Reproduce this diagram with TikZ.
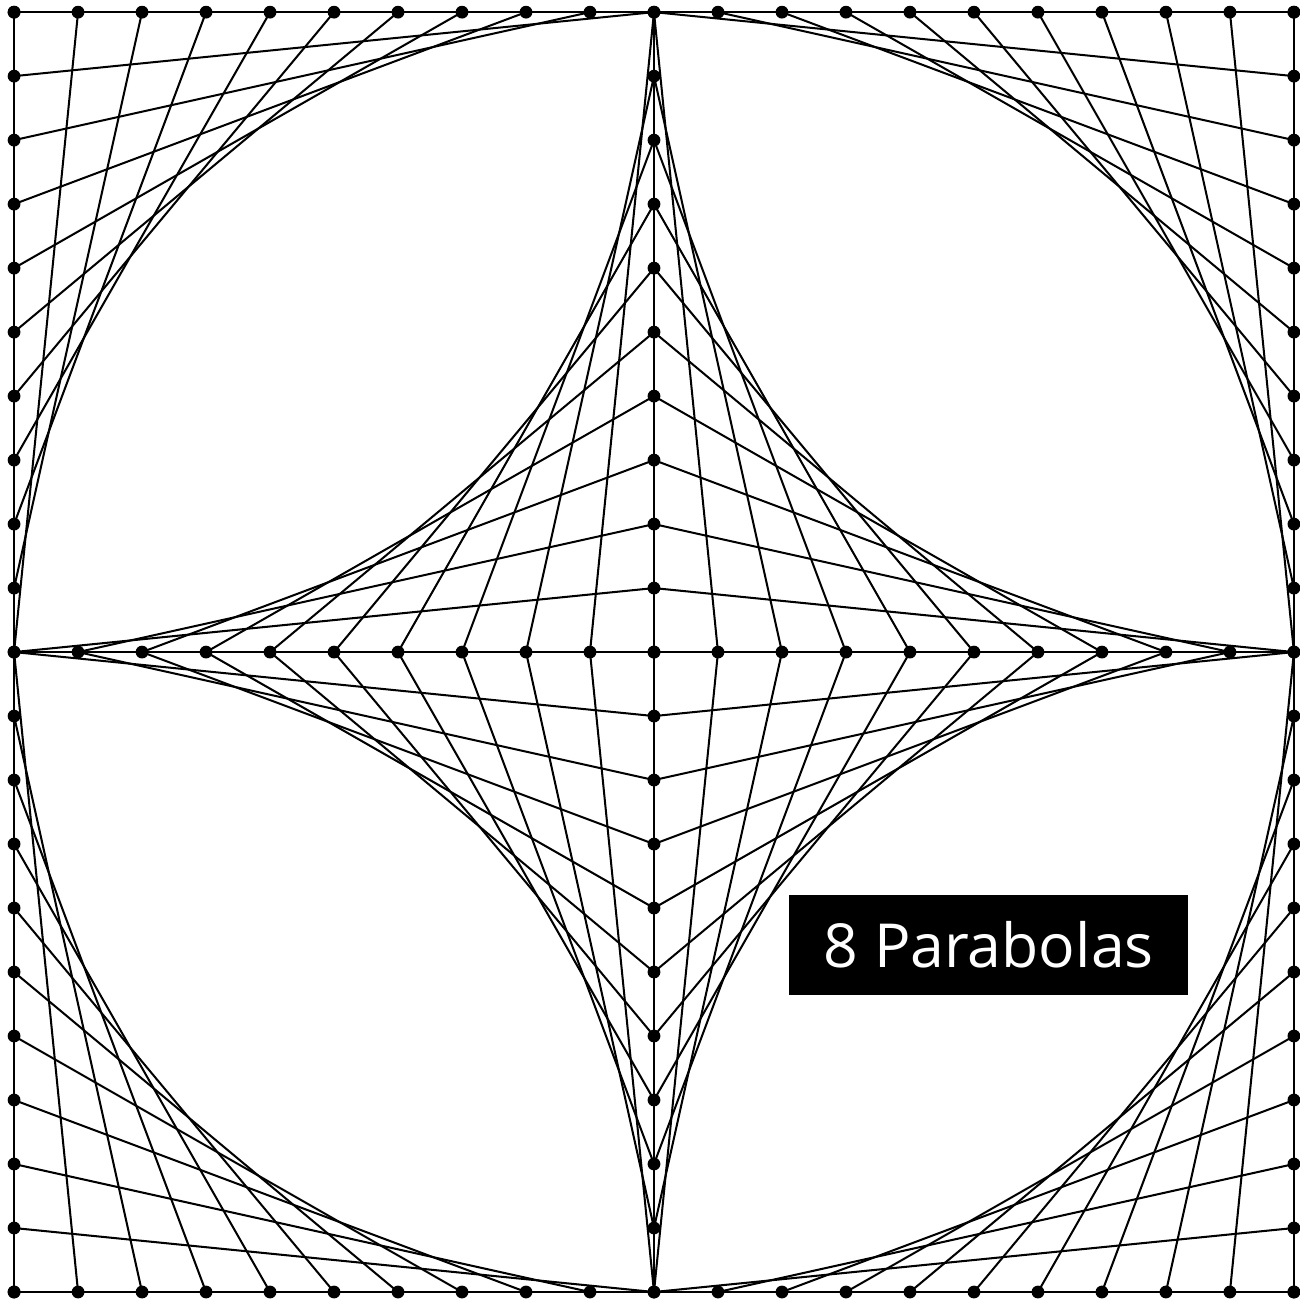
\documentclass[tikz,border=0pt]{standalone}
\usepackage{fontspec}
\newfontfamily\labelfont{Open Sans}
\begin{document}
\begin{tikzpicture}[
    string/.style={line width=0.9pt, black},
    pin/.style={black},
    tag/.style={fill=black, text=white, inner sep=0pt, minimum width=6.24cm, minimum height=1.56cm, font=\labelfont\fontsize{27}{31}\selectfont},
]
\useasboundingbox (-10.22,-10.125) rectangle (10.095,10.19);

% Frame and cross
\draw[string] (-10,-10) rectangle (10,10);
\draw[string] (-10,0) -- (10,0);
\draw[string] (0,-10) -- (0,10);

% Outer parabolas - one per corner
\foreach \sx in {-1,1} {
  \foreach \sy in {-1,1} {
    \foreach \a in {1,...,10} {
      \draw[string] ({\sx*10},{\sy*(10-\a)}) -- ({\sx*(\a-1)},{\sy*10});
    }
  }
}

% Inner parabolas - one per quarter of the cross
\foreach \sx in {-1,1} {
  \foreach \sy in {-1,1} {
    \foreach \a in {1,...,10} {
      \draw[string] ({\sx*\a},0) -- (0,{\sy*(11-\a)});
    }
  }
}

% Pins on the frame and on the cross
\foreach \k in {-10,...,10} {
  \fill[pin] (\k,10) circle (0.1);
  \fill[pin] (\k,-10) circle (0.1);
  \fill[pin] (-10,\k) circle (0.1);
  \fill[pin] (10,\k) circle (0.1);
  \fill[pin] (\k,0) circle (0.1);
  \fill[pin] (0,\k) circle (0.1);
}

% Label
\node[tag] (title) at (5.23,-4.58) {8 Parabolas};

\end{tikzpicture}
\end{document}
